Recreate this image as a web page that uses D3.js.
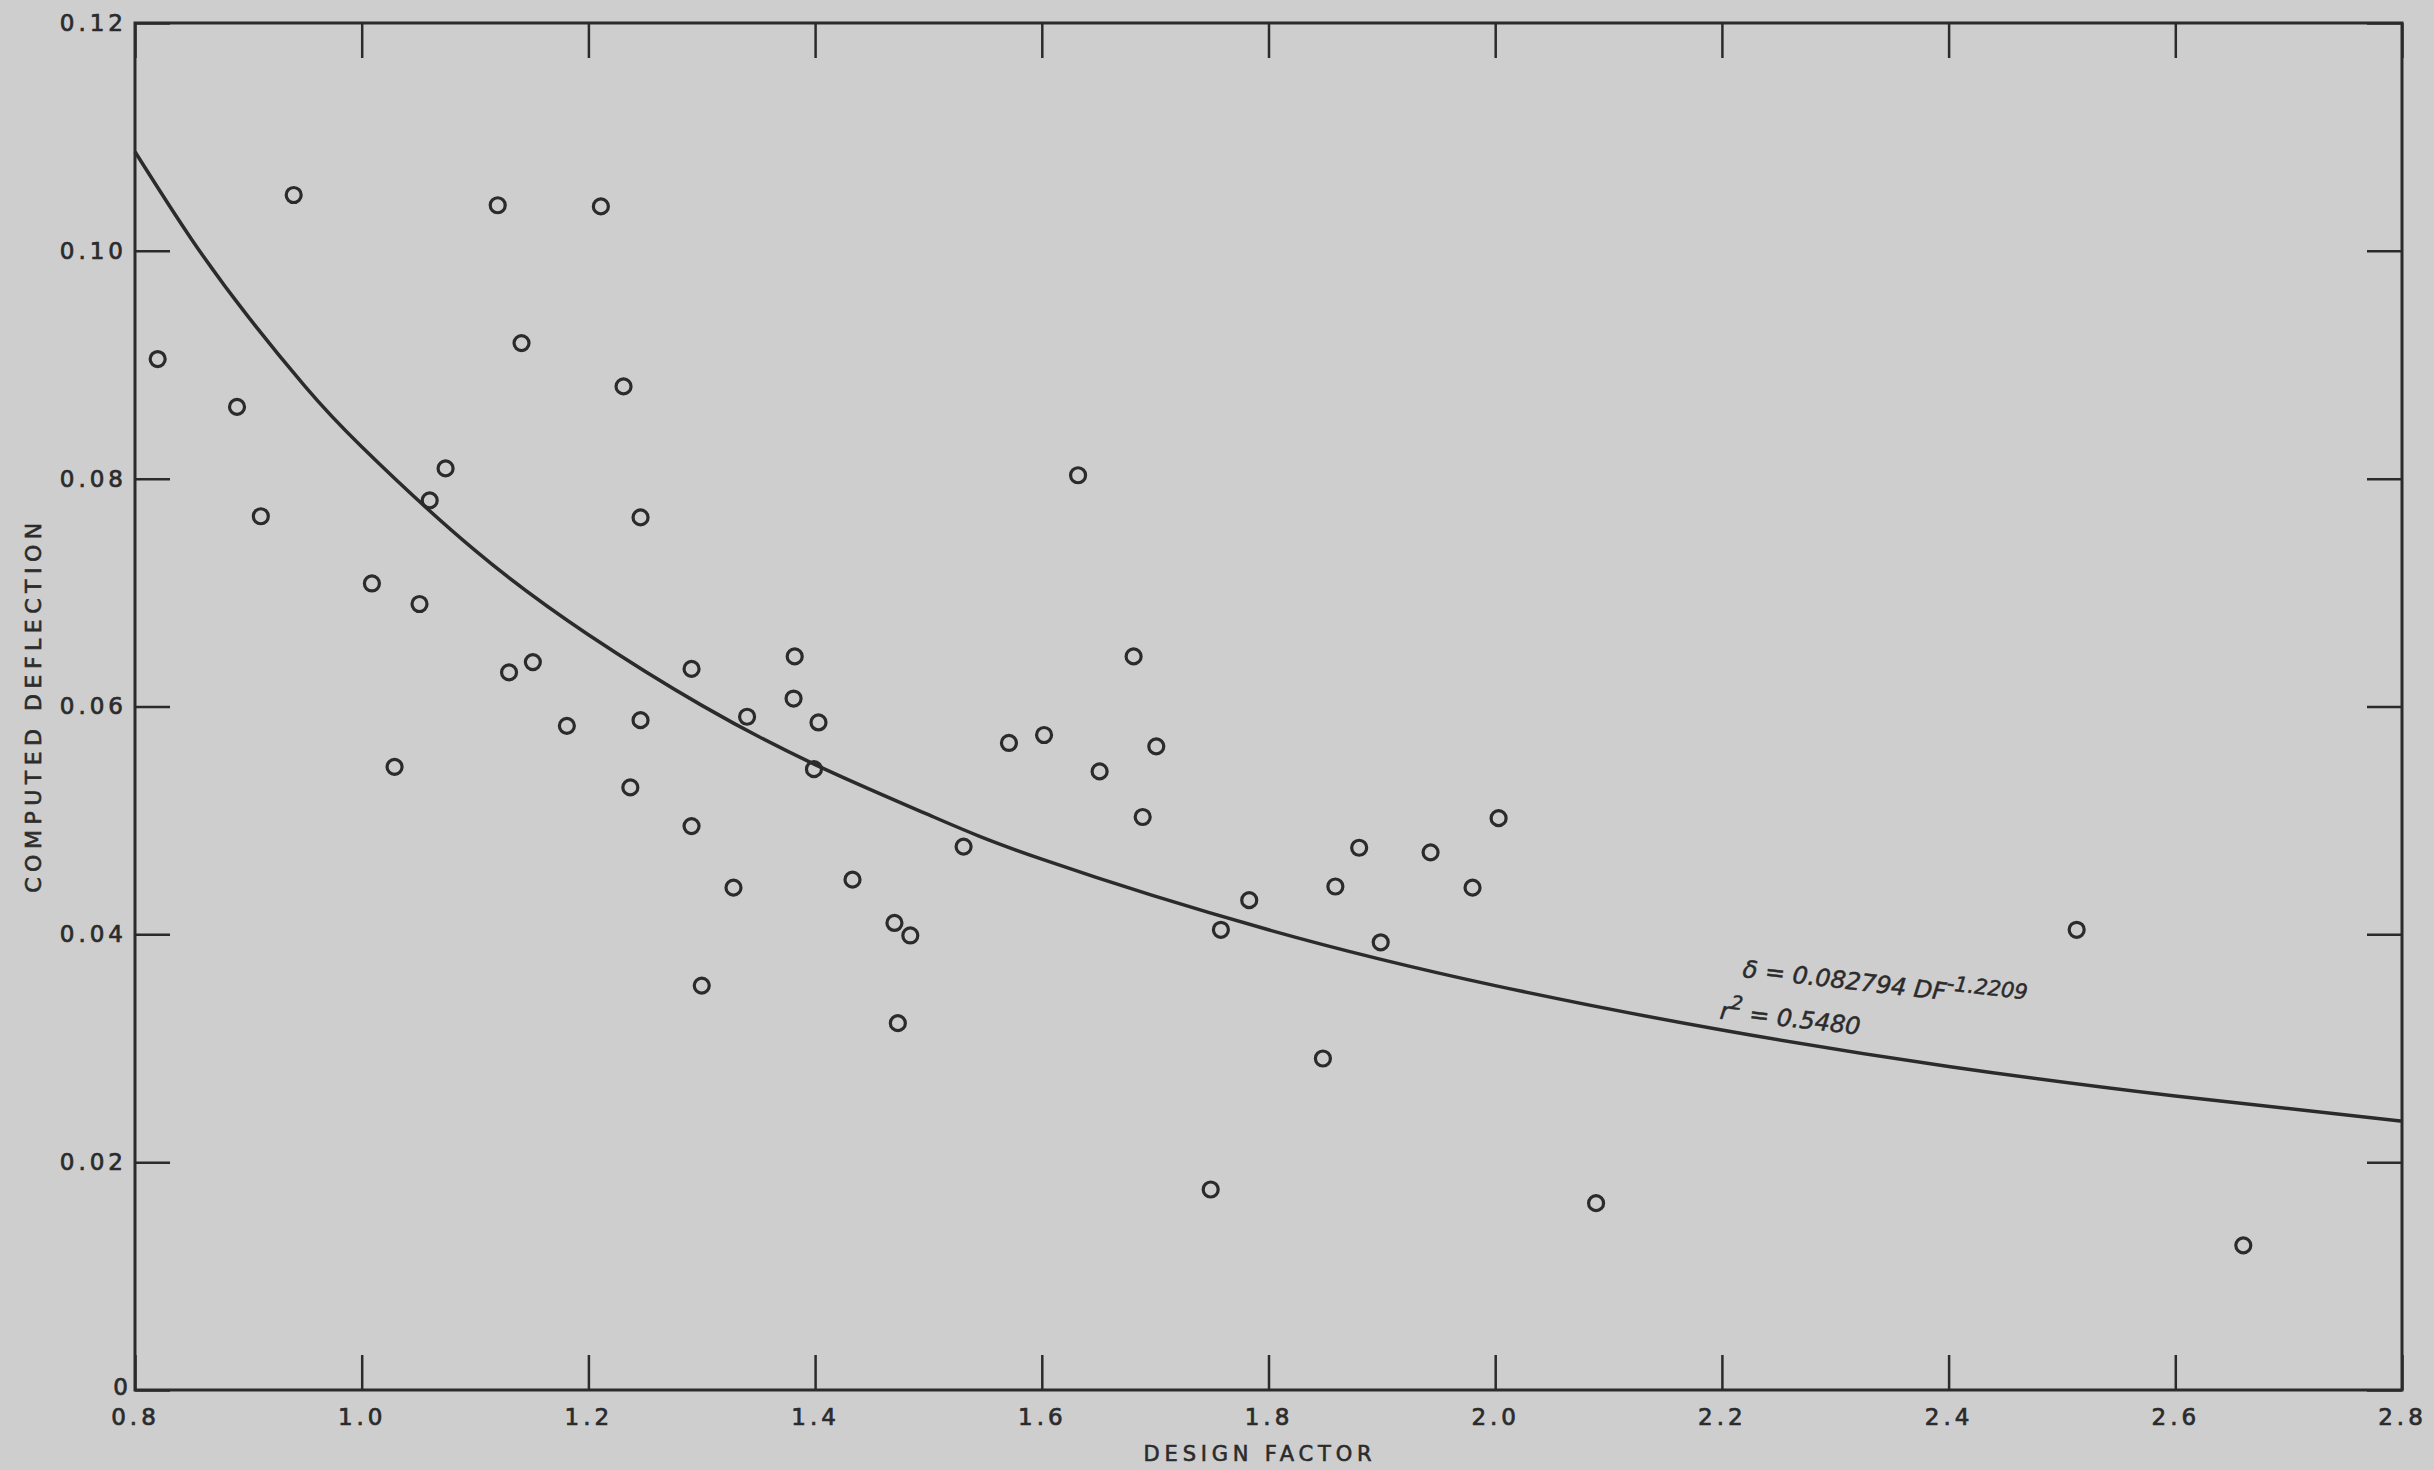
<!DOCTYPE html>
<html>
<head>
<meta charset="utf-8">
<script src="https://cdn.jsdelivr.net/npm/d3@7"></script>
<style>
    body { margin: 0; background: #cececf; }
    svg { display: block; }
</style>
</head>
<body>
<svg id="chart" width="2434" height="1470"></svg>
<script>
// design factor / computed deflection pairs
var designFactor = [0.820, 0.890, 0.911, 0.940, 1.009, 1.029, 1.051, 1.060, 1.074, 1.120,
    1.130, 1.141, 1.151, 1.181, 1.231, 1.237, 1.211, 1.246, 1.246, 1.291,
    1.291, 1.300, 1.328, 1.340, 1.382, 1.381, 1.403, 1.399, 1.433, 1.470,
    1.473, 1.484, 1.531, 1.571, 1.602, 1.632, 1.651, 1.681, 1.689, 1.701,
    1.749, 1.758, 1.783, 1.848, 1.859, 1.880, 1.899, 1.943, 1.980, 2.003,
    2.089, 2.513, 2.660]
var deflection = [0.0905, 0.0863, 0.0767, 0.1049, 0.0708, 0.0547, 0.0690, 0.0781, 0.0809, 0.1040,
    0.0630, 0.0919, 0.0639, 0.0583, 0.0881, 0.0529, 0.1039, 0.0766, 0.0588, 0.0495,
    0.0633, 0.0355, 0.0441, 0.0591, 0.0644, 0.0607, 0.0586, 0.0545, 0.0448, 0.0410,
    0.0322, 0.0399, 0.0477, 0.0568, 0.0575, 0.0803, 0.0543, 0.0644, 0.0503, 0.0565,
    0.0176, 0.0404, 0.0430, 0.0291, 0.0442, 0.0476, 0.0393, 0.0472, 0.0441, 0.0502,
    0.0164, 0.0404, 0.0127]

// fitted curve as traced on the plot
var curveDF = [0.80, 0.85, 0.90, 0.95, 1.00, 1.10, 1.20, 1.30, 1.40, 1.50, 1.60, 1.80, 2.00, 2.20, 2.40, 2.60, 2.80]
var curveDelta = [0.1087, 0.1010, 0.0942, 0.0881, 0.0828, 0.0737, 0.0663, 0.0601, 0.0549, 0.0505, 0.0466, 0.0404, 0.0355, 0.0316, 0.0284, 0.0258, 0.0236]

var xTicks = [0.8, 1.0, 1.2, 1.4, 1.6, 1.8, 2.0, 2.2, 2.4, 2.6, 2.8]
var yTicks = [0, 0.02, 0.04, 0.06, 0.08, 0.10, 0.12]
var xTitle = 'DESIGN FACTOR'
var yTitle = 'COMPUTED DEFLECTION'

var ink = '#2b2b2b'
var svg = d3.select('#chart')
var width = +svg.attr('width')
var height = +svg.attr('height')
var margin = { left: 135, top: 23, right: 32, bottom: 80 }

svg.append('rect').attr('width', width).attr('height', height).attr('fill', '#cececf')

var x = d3.scaleLinear().domain([0.8, 2.8]).range([margin.left, width - margin.right])
var y = d3.scaleLinear().domain([0, 0.12]).range([height - margin.bottom, margin.top])

var tickLen = 35

function styleAxis(g) {
    g.select('.domain').remove()
    g.selectAll('.tick line').attr('stroke', ink).attr('stroke-width', 2.5)
    g.selectAll('text')
        .attr('fill', ink)
        .attr('stroke', ink)
        .attr('stroke-width', 0.7)
        .style('font-family', 'DejaVu Sans')
        .style('font-size', '23px')
        .style('letter-spacing', '4px')
}

svg.append('g')
    .attr('transform', 'translate(0,' + y(0) + ')')
    .call(d3.axisBottom(x).tickValues(xTicks).tickSize(-tickLen).tickPadding(19).tickFormat(d3.format('.1f')))
    .call(styleAxis)

svg.append('g')
    .attr('transform', 'translate(0,' + y(0.12) + ')')
    .call(d3.axisTop(x).tickValues(xTicks).tickSize(-tickLen).tickFormat(''))
    .call(styleAxis)

var yAxisG = svg.append('g')
    .attr('transform', 'translate(' + x(0.8) + ',0)')
    .call(d3.axisLeft(y).tickValues(yTicks).tickSize(-tickLen).tickPadding(8)
        .tickFormat(d => d === 0 ? '0' : d3.format('.2f')(d)))
    .call(styleAxis)
yAxisG.selectAll('.tick text').filter(d => d === 0).attr('x', -3).attr('y', -3)

svg.append('g')
    .attr('transform', 'translate(' + x(2.8) + ',0)')
    .call(d3.axisRight(y).tickValues(yTicks).tickSize(-tickLen).tickFormat(''))
    .call(styleAxis)

// frame
svg.append('rect')
    .attr('x', x(0.8)).attr('y', y(0.12))
    .attr('width', x(2.8) - x(0.8)).attr('height', y(0) - y(0.12))
    .attr('fill', 'none').attr('stroke', ink).attr('stroke-width', 3)

// axis titles
svg.append('text').text(xTitle)
    .attr('x', 1260).attr('y', 1461)
    .attr('text-anchor', 'middle').attr('fill', ink)
    .attr('stroke', ink).attr('stroke-width', 0.6)
    .style('font-family', 'DejaVu Sans').style('font-size', '21px').style('letter-spacing', '4.8px')

svg.append('text').text(yTitle)
    .attr('transform', 'translate(41,' + 705 + ') rotate(-90)')
    .attr('text-anchor', 'middle').attr('fill', ink)
    .attr('stroke', ink).attr('stroke-width', 0.6)
    .style('font-family', 'DejaVu Sans').style('font-size', '22px').style('letter-spacing', '5.5px')

// fitted curve
var line = d3.line()
    .x(d => x(d[0]))
    .y(d => y(d[1]))
    .curve(d3.curveNatural)
svg.append('path')
    .datum(d3.zip(curveDF, curveDelta))
    .attr('d', line)
    .attr('fill', 'none').attr('stroke', ink).attr('stroke-width', 3.5)

// data points
svg.append('g')
    .selectAll('circle')
    .data(d3.zip(designFactor, deflection))
    .enter()
    .append('circle')
    .attr('cx', d => x(d[0]))
    .attr('cy', d => y(d[1]))
    .attr('r', 7.5)
    .attr('fill', 'none')
    .attr('stroke', ink)
    .attr('stroke-width', 3.2)

// equation label
var eq = svg.append('g')
    .attr('transform', 'translate(1742,977) rotate(6.5)')
    .attr('fill', ink)
    .attr('stroke', ink)
    .attr('stroke-width', 0.5)
    .style('font-family', 'DejaVu Sans')
    .style('font-style', 'italic')
    .style('font-size', '24px')
var t1 = eq.append('text')
t1.append('tspan').text('\u03b4 = 0.082794 DF')
t1.append('tspan').text('-1.2209').attr('dy', -10).style('font-size', '21px')
var t2 = eq.append('text').attr('x', -18).attr('y', 44)
t2.append('tspan').text('r')
t2.append('tspan').text('2').attr('dy', -11).style('font-size', '19px')
t2.append('tspan').text(' = 0.5480').attr('dy', 11)
</script>
</body>
</html>
